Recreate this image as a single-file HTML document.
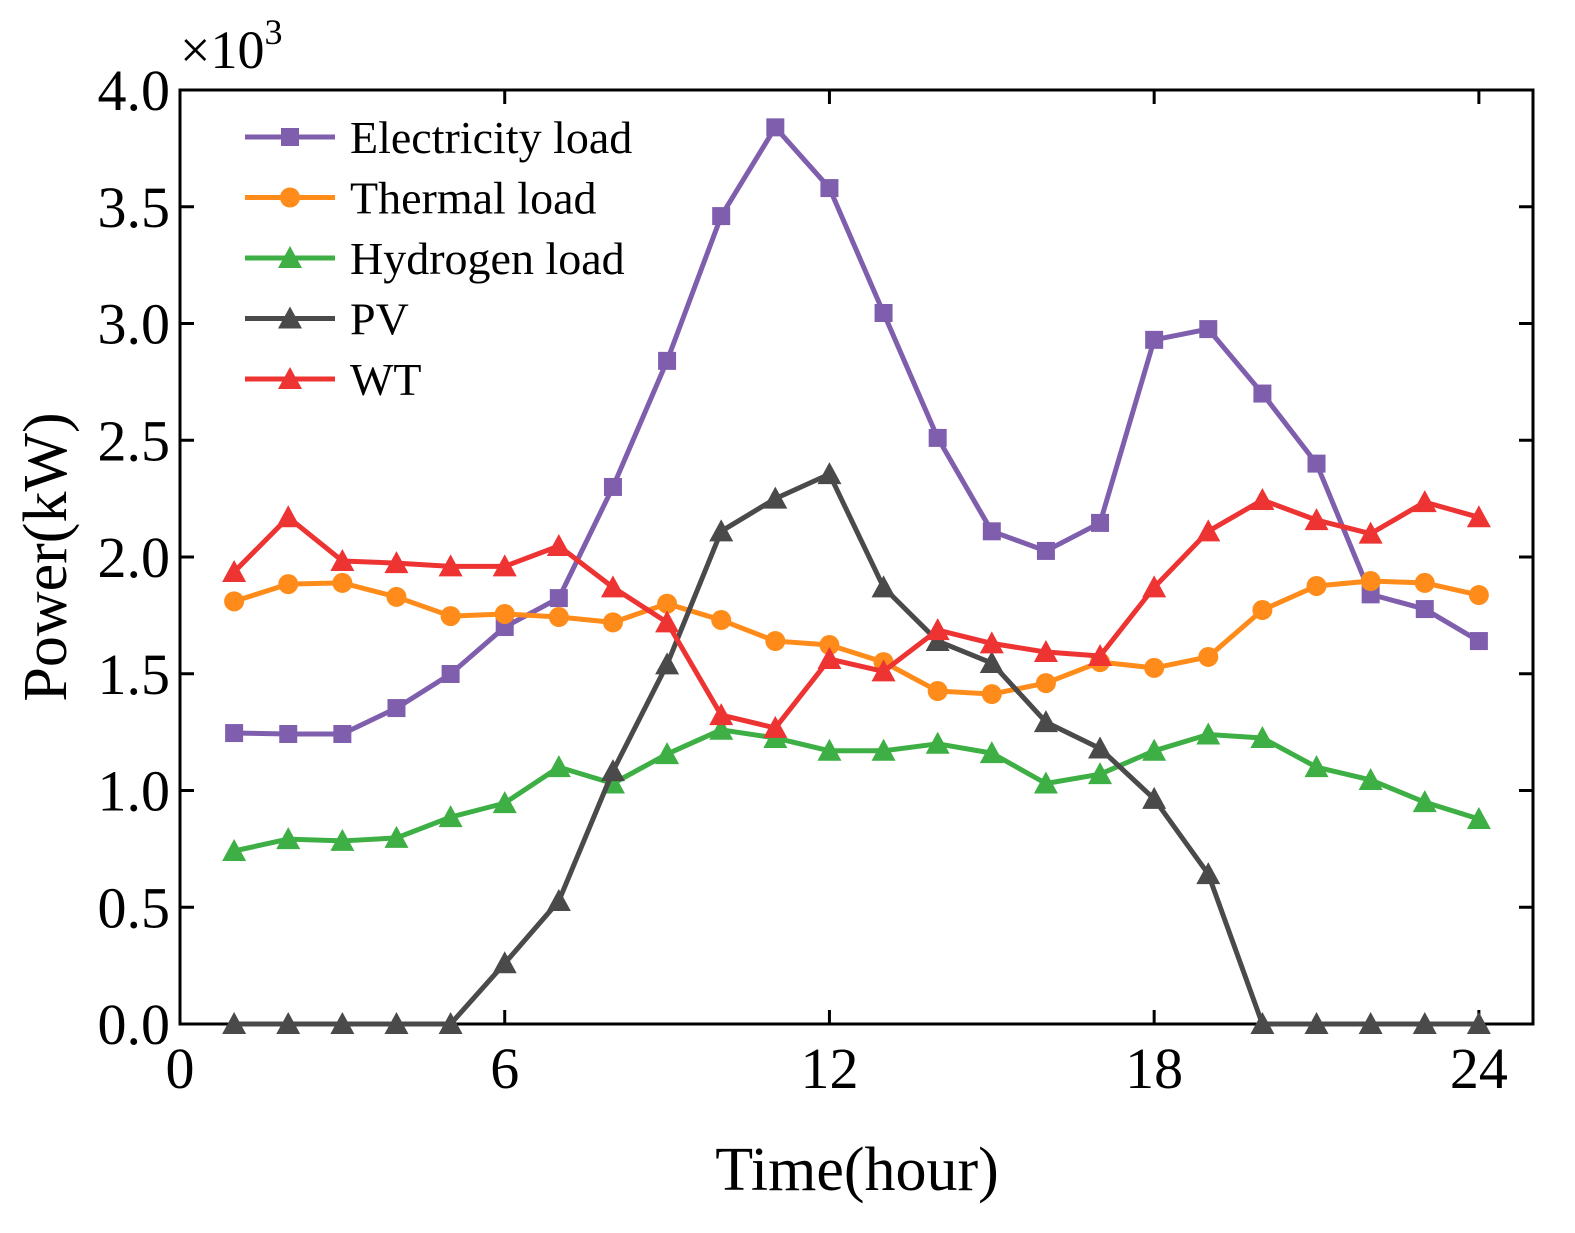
<!DOCTYPE html>
<html><head><meta charset="utf-8"><style>
html,body{margin:0;padding:0;background:#fff;}
svg{display:block;font-family:"Liberation Serif",serif;}
</style></head><body>
<svg id="chart" width="1575" height="1233" xmlns="http://www.w3.org/2000/svg"></svg>
<script>
const hours=[1,2,3,4,5,6,7,8,9,10,11,12,13,14,15,16,17,18,19,20,21,22,23,24];
const electricity=[1.246,1.242,1.242,1.353,1.499,1.70,1.824,2.30,2.84,3.46,3.84,3.58,3.045,2.51,2.11,2.026,2.146,2.93,2.976,2.70,2.40,1.84,1.777,1.64];
const thermal=[1.81,1.884,1.889,1.829,1.747,1.756,1.743,1.72,1.80,1.73,1.64,1.623,1.55,1.426,1.413,1.46,1.55,1.525,1.572,1.773,1.876,1.897,1.889,1.837];
const hydrogen=[0.741,0.792,0.784,0.797,0.886,0.946,1.10,1.03,1.156,1.26,1.225,1.17,1.17,1.20,1.16,1.03,1.07,1.17,1.24,1.225,1.10,1.045,0.95,0.878];
const pv=[0,0,0,0,0,0.26,0.527,1.083,1.54,2.11,2.25,2.355,1.87,1.64,1.546,1.293,1.18,0.964,0.642,0,0,0,0,0];
const wt=[1.936,2.17,1.983,1.974,1.96,1.96,2.047,1.87,1.72,1.323,1.268,1.563,1.51,1.687,1.63,1.593,1.576,1.87,2.11,2.244,2.158,2.10,2.235,2.17];
const xTicks=[0,6,12,18,24];
const yTicks=[0,0.5,1.0,1.5,2.0,2.5,3.0,3.5,4.0];

const L=180,R=1533,T=90,B=1024;
const xs=h=>L+h*(R-L)/25;
const ys=v=>B-v*(B-T)/4;
const svg=document.getElementById('chart');
const NS='http://www.w3.org/2000/svg';
function mk(tag,attrs,parent){const e=document.createElementNS(NS,tag);for(const k in attrs)e.setAttribute(k,attrs[k]);(parent||svg).appendChild(e);return e;}

const frame=mk('rect',{x:L,y:T,width:R-L,height:B-T,fill:'none',stroke:'#000','stroke-width':3});



xTicks.forEach(t=>{
  const x=xs(t);
  mk('line',{x1:x,y1:B,x2:x,y2:B-14,stroke:'#000','stroke-width':3});
  mk('line',{x1:x,y1:T,x2:x,y2:T+14,stroke:'#000','stroke-width':3});
  const tx=mk('text',{x:x,y:B+64,'font-size':58,'text-anchor':'middle'});
  tx.textContent=t;
  
  
});
yTicks.forEach(t=>{
  const y=ys(t);
  mk('line',{x1:L,y1:y,x2:L+14,y2:y,stroke:'#000','stroke-width':3});
  mk('line',{x1:R,y1:y,x2:R-14,y2:y,stroke:'#000','stroke-width':3});
  const tx=mk('text',{x:L-10,y:y+20,'font-size':58,'text-anchor':'end'});
  tx.textContent=t.toFixed(1);
  
  
});

const mult=mk('text',{x:180,y:68,'font-size':54});
mult.innerHTML='×10<tspan font-size="36" dy="-24">3</tspan>';



const yl=mk('text',{x:0,y:0,'font-size':62,'text-anchor':'middle',transform:'translate(66,557) rotate(-90)'});
yl.textContent='Power(kW)';


const xl=mk('text',{x:857,y:1190,'font-size':62,'text-anchor':'middle'});
xl.textContent='Time(hour)';



function marker(g,type,x,y,c){
  if(type==='sq') mk('rect',{x:x-9,y:y-9,width:18,height:18,fill:c},g);
  else if(type==='ci') mk('circle',{cx:x,cy:y,r:10,fill:c},g);
  else mk('polygon',{points:`${x},${y-12} ${x-12},${y+10} ${x+12},${y+10}`,fill:c},g);
}
const series=[
 {name:'Electricity load',data:electricity,c:'#7F5FAD',m:'sq',key:'electricity'},
 {name:'Thermal load',data:thermal,c:'#FF8C1A',m:'ci',key:'thermal'},
 {name:'Hydrogen load',data:hydrogen,c:'#3DAF44',m:'tr',key:'hydrogen'},
 {name:'PV',data:pv,c:'#4A4A4A',m:'tr',key:'pv'},
 {name:'WT',data:wt,c:'#EE3333',m:'tr',key:'wt'}
];
series.forEach((s,i)=>{
  const g=mk('g',{});
  
  
  const pts=s.data.map((v,j)=>xs(hours[j])+','+ys(v)).join(' ');
  mk('polyline',{points:pts,fill:'none',stroke:s.c,'stroke-width':5,'stroke-linejoin':'round'},g);
  s.data.forEach((v,j)=>marker(g,s.m,xs(hours[j]),ys(v),s.c));
  const ly=137+i*60.5;
  const lg=mk('g',{});
  
  
  mk('line',{x1:245,y1:ly,x2:335,y2:ly,stroke:s.c,'stroke-width':5},lg);
  marker(lg,s.m,290,ly,s.c);
  const t=mk('text',{x:350,y:ly+16,'font-size':46},lg);
  t.textContent=s.name;
});
</script>
</body></html>
